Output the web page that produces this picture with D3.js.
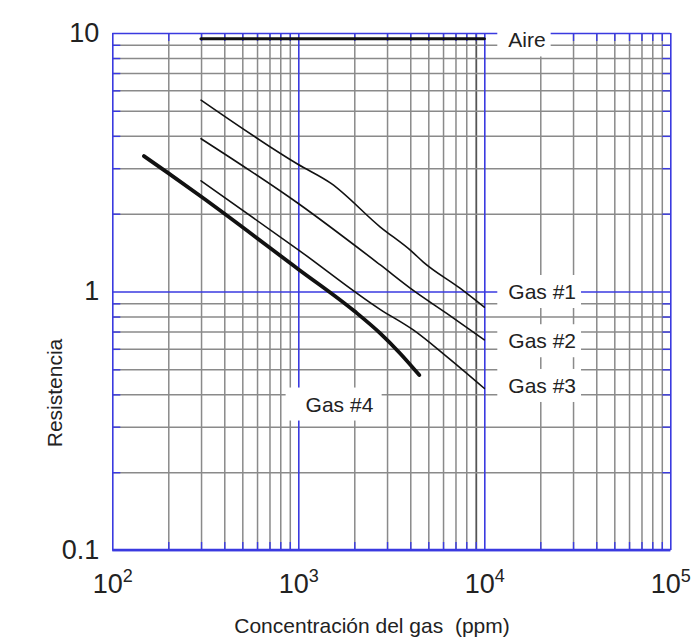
<!DOCTYPE html>
<html>
<head>
<meta charset="utf-8">
<script src="https://cdn.jsdelivr.net/npm/d3@7"></script>
<style>
  html, body { margin: 0; padding: 0; background: #fff; }
  svg { display: block; font-family: "Liberation Sans", Arial, Helvetica, sans-serif; }
</style>
</head>
<body>
<svg id="chart" width="697" height="642"></svg>
<script>
// Sensor response: resistance ratio vs gas concentration (log-log)
const xTicks = [1e2, 1e3, 1e4, 1e5];
const xTickExponents = ["2", "3", "4", "5"];
const yTicks = [0.1, 1, 10];
const yTickLabels = ["0.1", "1", "10"];

const aireX = [300, 10000];
const aireY = [9.5, 9.5];

const gas1X = [300, 1000, 1500, 2750, 4070, 4700, 7400, 10000];
const gas1Y = [5.5, 3.1, 2.62, 1.78, 1.43, 1.30, 1.03, 0.87];

const gas2X = [300, 1000, 2750, 4150, 6280, 10000];
const gas2Y = [3.9, 2.19, 1.27, 1.01, 0.823, 0.65];

const gas3X = [300, 1000, 2750, 4150, 6280, 10000];
const gas3Y = [2.68, 1.45, 0.853, 0.71, 0.56, 0.422];

const gas4X = [148, 200, 300, 1000, 2000, 2750, 3520, 4470];
const gas4Y = [3.34, 2.87, 2.33, 1.22, 0.84, 0.69, 0.577, 0.475];

const seriesNames = ["Aire", "Gas #1", "Gas #2", "Gas #3", "Gas #4"];
// label anchor points in data units (ppm, resistance)
const labelX = [13500, 13500, 13500, 13500, 1665];
const labelY = [9.4, 1.0, 0.645, 0.433, 0.367];

const xTitle = "Concentración del gas  (ppm)";
const yTitle = "Resistencia";

const W = 697, H = 642;
const plot = { left: 112.3, right: 670.3, top: 33, bottom: 550 };

const svg = d3.select("#chart");
svg.append("rect").attr("width", W).attr("height", H).attr("fill", "#fff");

const x = d3.scaleLog().domain([1e2, 1e5]).range([plot.left, plot.right]);
const y = d3.scaleLog().domain([0.1, 10]).range([plot.bottom, plot.top]);

// minor grid values (2..9 within each decade)
const xMinor = [];
for (let d = 2; d < 5; d++) for (let m = 2; m <= 9; m++) xMinor.push(m * Math.pow(10, d));
const yMinor = [];
for (let d = -1; d < 1; d++) for (let m = 2; m <= 9; m++) yMinor.push(+(m * Math.pow(10, d)).toPrecision(3));

const BLUE = "#3a3ae0";
const GRAY = "#8a8a8a";

const grid = svg.append("g");
// minor grid lines via axes with full-length ticks
const gx = grid.append("g")
  .attr("transform", `translate(0,${plot.bottom})`)
  .call(d3.axisBottom(x).tickValues(xMinor).tickSize(-(plot.bottom - plot.top)).tickFormat(""));
gx.select(".domain").remove();
gx.selectAll(".tick line")
  .attr("stroke", d => (d === 9000 ? "#555" : GRAY))
  .attr("stroke-width", d => (d === 9000 ? 1.8 : 1.5));

const gy = grid.append("g")
  .attr("transform", `translate(${plot.left},0)`)
  .call(d3.axisLeft(y).tickValues(yMinor).tickSize(-(plot.right - plot.left)).tickFormat(""));
gy.select(".domain").remove();
gy.selectAll(".tick line").attr("stroke", GRAY).attr("stroke-width", 1.5);

// small blue minor ticks on every edge
const tickLen = 8;
const edge = svg.append("g").attr("stroke", BLUE).attr("stroke-width", 1.4);
[[plot.bottom, d3.axisTop], [plot.top, d3.axisBottom]].forEach(([ty, ax]) => {
  const g = edge.append("g").attr("transform", `translate(0,${ty})`)
    .call(ax(x).tickValues(xMinor).tickSize(tickLen).tickFormat(""));
  g.select(".domain").remove();
  g.selectAll(".tick line").attr("stroke", BLUE);
});
[[plot.left, d3.axisRight], [plot.right, d3.axisLeft]].forEach(([tx, ax]) => {
  const g = edge.append("g").attr("transform", `translate(${tx},0)`)
    .call(ax(y).tickValues(yMinor).tickSize(tickLen).tickFormat(""));
  g.select(".domain").remove();
  g.selectAll(".tick line").attr("stroke", BLUE);
});

// major (decade) lines in blue
const gxM = grid.append("g")
  .attr("transform", `translate(0,${plot.bottom})`)
  .call(d3.axisBottom(x).tickValues(xTicks).tickSize(-(plot.bottom - plot.top)).tickFormat(""));
gxM.select(".domain").remove();
gxM.selectAll(".tick line").attr("stroke", BLUE).attr("stroke-width", 1.6);

const gyM = grid.append("g")
  .attr("transform", `translate(${plot.left},0)`)
  .call(d3.axisLeft(y).tickValues(yTicks).tickSize(-(plot.right - plot.left)).tickFormat(""));
gyM.select(".domain").remove();
gyM.selectAll(".tick line").attr("stroke", BLUE).attr("stroke-width", 1.6);

// thicker bottom frame
svg.append("line")
  .attr("x1", plot.left).attr("x2", plot.right)
  .attr("y1", y(0.1)).attr("y2", y(0.1))
  .attr("stroke", BLUE).attr("stroke-width", 2.6);

// tick labels
const xAxisLabels = svg.append("g")
  .attr("transform", `translate(0,${plot.bottom})`)
  .call(d3.axisBottom(x).tickValues(xTicks).tickSize(0).tickPadding(0).tickFormat(""));
xAxisLabels.select(".domain").remove();
xAxisLabels.selectAll(".tick").each(function (d, i) {
  const t = d3.select(this).append("text")
    .attr("y", 43).attr("text-anchor", "middle")
    .attr("fill", "#222").attr("font-size", 27);
  t.append("tspan").text("10");
  t.append("tspan").attr("font-size", 18).attr("dy", -11).text(xTickExponents[i]);
});

const yAxisLabels = svg.append("g")
  .attr("transform", `translate(${plot.left},0)`)
  .call(d3.axisLeft(y).tickValues(yTicks).tickSize(0).tickPadding(0).tickFormat(""));
yAxisLabels.select(".domain").remove();
yAxisLabels.selectAll(".tick").each(function (d, i) {
  d3.select(this).append("text")
    .attr("x", -13).attr("y", 8).attr("text-anchor", "end")
    .attr("fill", "#222").attr("font-size", 27)
    .text(yTickLabels[i]);
});

// curves
const line = d3.line().x(d => x(d[0])).y(d => y(d[1])).curve(d3.curveMonotoneX);
const series = [
  { xs: aireX, ys: aireY, w: 3.2 },
  { xs: gas1X, ys: gas1Y, w: 1.6 },
  { xs: gas2X, ys: gas2Y, w: 1.6 },
  { xs: gas3X, ys: gas3Y, w: 1.6 },
  { xs: gas4X, ys: gas4Y, w: 3.8 }
];
svg.append("g").selectAll("path").data(series).join("path")
  .attr("d", s => line(d3.zip(s.xs, s.ys)))
  .attr("fill", "none")
  .attr("stroke", "#111")
  .attr("stroke-width", s => s.w)
  .attr("stroke-linecap", "round")
  .attr("stroke-linejoin", "round");

// series labels on white backing
const labels = svg.append("g");
seriesNames.forEach((name, i) => {
  const g = labels.append("g");
  const anchor = i === 4 ? "middle" : "start";
  const tx = i === 4 ? x(labelX[i]) : x(1e4) + 24;
  const t = g.append("text")
    .attr("x", tx).attr("y", y(labelY[i]) + 7.5)
    .attr("text-anchor", anchor)
    .attr("font-size", 21).attr("fill", "#222")
    .text(name);
  const bb = t.node().getBBox();
  const padL = i === 4 ? 20 : 11, padR = i === 4 ? 8 : 5;
  g.insert("rect", "text")
    .attr("x", bb.x - padL).attr("y", bb.y - 5)
    .attr("width", bb.width + padL + padR).attr("height", bb.height + 10)
    .attr("fill", "#fff");
});

// axis titles
svg.append("text")
  .attr("x", 372).attr("y", 633)
  .attr("text-anchor", "middle")
  .attr("font-size", 21).attr("fill", "#222")
  .style("white-space", "pre")
  .text(xTitle);

svg.append("text")
  .attr("transform", `translate(62,393) rotate(-90)`)
  .attr("text-anchor", "middle")
  .attr("font-size", 21).attr("fill", "#222")
  .text(yTitle);
</script>
</body>
</html>
